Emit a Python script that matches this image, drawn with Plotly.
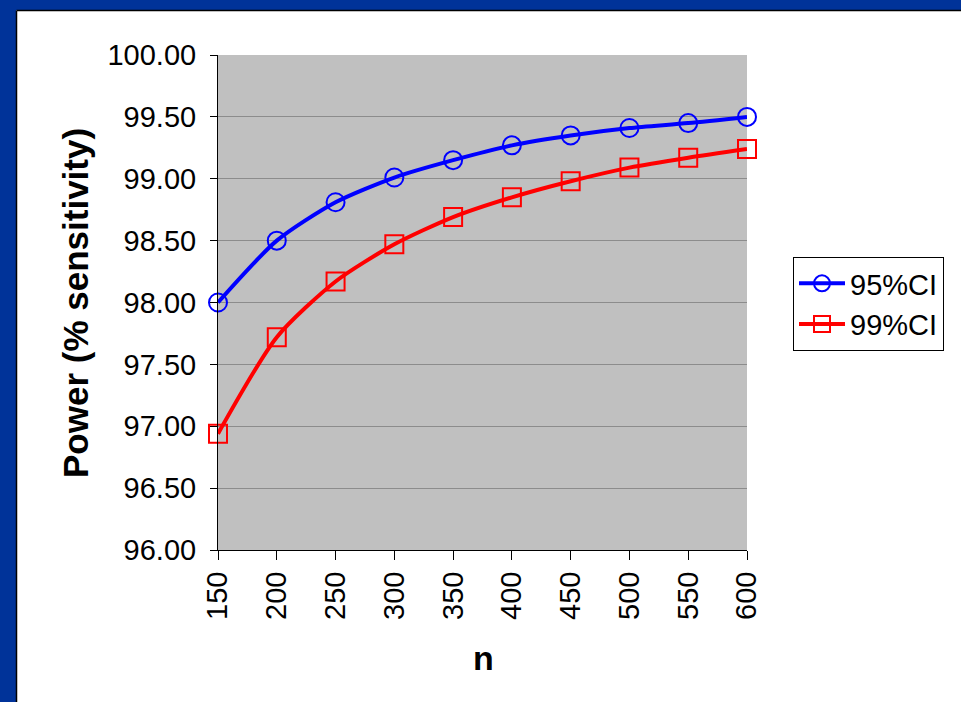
import plotly.graph_objects as go

# Sample sizes and power (% sensitivity) for two confidence levels
n_values = [150, 200, 250, 300, 350, 400, 450, 500, 550, 600]
power_95 = [98.00, 98.50, 98.81, 99.01, 99.15, 99.27, 99.35, 99.41, 99.45, 99.50]
power_99 = [96.94, 97.72, 98.17, 98.47, 98.69, 98.85, 98.98, 99.09, 99.17, 99.24]
y_ticks = [96.0, 96.5, 97.0, 97.5, 98.0, 98.5, 99.0, 99.5, 100.0]

FONT = "Liberation Sans, Arial, sans-serif"
W, H = 961, 702
L, R, T, B = 218, 214, 55, 152   # plot-area margins in pixels
PW, PH = W - L - R, H - T - B


def px_x(px):
    return (px - L) / PW


def px_y(py):
    return (H - B - py) / PH


fig = go.Figure()
fig.add_trace(go.Scatter(
    x=n_values, y=power_95, name="95%CI", mode="lines+markers",
    line=dict(color="#0000ff", width=4, shape="spline", smoothing=0.7),
    marker=dict(symbol="circle-open", size=18, color="#0000ff", line=dict(width=2)),
    cliponaxis=False,
))
fig.add_trace(go.Scatter(
    x=n_values, y=power_99, name="99%CI", mode="lines+markers",
    line=dict(color="#ff0000", width=4, shape="spline", smoothing=0.7),
    marker=dict(symbol="square-open", size=18, color="#ff0000", line=dict(width=2)),
    cliponaxis=False,
))

# Slide frame: blue bands on the top and left edges
frame = "#003399"
shapes = [
    dict(type="rect", xref="paper", yref="paper", x0=px_x(-5), x1=px_x(W + 5),
         y0=px_y(10), y1=px_y(-5), fillcolor=frame, line=dict(width=0), layer="above"),
    dict(type="rect", xref="paper", yref="paper", x0=px_x(-5), x1=px_x(16),
         y0=px_y(H + 5), y1=px_y(-5), fillcolor=frame, line=dict(width=0), layer="above"),
    dict(type="line", xref="paper", yref="paper", x0=px_x(16.5), x1=px_x(W + 5),
         y0=px_y(10.5), y1=px_y(10.5), line=dict(color="black", width=1.5), layer="above"),
    dict(type="line", xref="paper", yref="paper", x0=px_x(16.5), x1=px_x(16.5),
         y0=px_y(10.5), y1=px_y(H + 5), line=dict(color="black", width=1.5), layer="above"),
]

annotations = [
    dict(text="<b>Power (% sensitivity)</b>", xref="paper", yref="paper",
         x=px_x(75), y=px_y(303), textangle=-90, showarrow=False,
         font=dict(family=FONT, size=35, color="black"), xanchor="center", yanchor="middle"),
    dict(text="<b>n</b>", xref="paper", yref="paper",
         x=px_x(483), y=px_y(658), showarrow=False,
         font=dict(family=FONT, size=34, color="black"), xanchor="center", yanchor="middle"),
]

fig.update_layout(
    width=W, height=H,
    margin=dict(l=L, r=R, t=T, b=B),
    paper_bgcolor="white",
    plot_bgcolor="#c0c0c0",
    font=dict(family=FONT, size=29, color="black"),
    shapes=shapes,
    annotations=annotations,
    showlegend=True,
    legend=dict(
        x=px_x(793), y=px_y(257), xanchor="left", yanchor="top",
        bgcolor="white", bordercolor="black", borderwidth=1,
        font=dict(family=FONT, size=29, color="black"),
        itemwidth=46, tracegroupgap=0,
    ),
)

fig.update_xaxes(
    range=[n_values[0], n_values[-1]], tickvals=n_values,
    ticktext=[str(v) for v in n_values], tickangle=-90,
    showgrid=False, zeroline=False,
    showline=True, linecolor="black", linewidth=1,
    ticks="outside", ticklen=9, tickcolor="black", tickwidth=1,
    tickfont=dict(family=FONT, size=29, color="black"),
)
fig.update_yaxes(
    range=[y_ticks[0], y_ticks[-1]], tickvals=y_ticks,
    ticktext=[f"{v:.2f}" for v in y_ticks],
    showgrid=True, gridcolor="#8c8c8c", gridwidth=1, zeroline=False,
    showline=True, linecolor="black", linewidth=1,
    ticks="outside", ticklen=7, tickcolor="black", tickwidth=1,
    ticklabelstandoff=8,
    tickfont=dict(family=FONT, size=29, color="black"),
)

fig.write_html("out.html")
